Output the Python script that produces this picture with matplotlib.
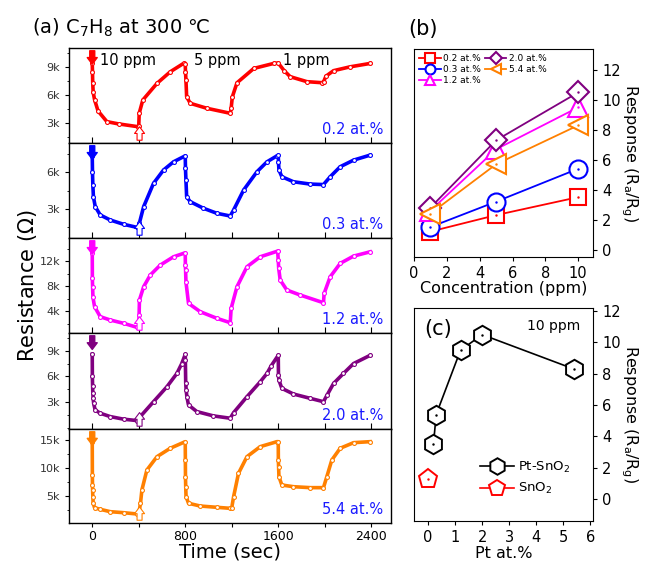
import matplotlib
matplotlib.use('Agg')
import matplotlib.pyplot as plt
import numpy as np
from matplotlib.ticker import AutoMinorLocator, MultipleLocator

plt.rcParams['font.family'] = ['DejaVu Sans']
plt.rcParams['mathtext.default'] = 'regular'

# transient resistance, time in sec, resistance in ohm
t02 = [0, 2, 4, 8, 20, 50, 126, 226, 390, 400, 404, 435, 557, 671, 785, 800, 802, 806, 812, 843,
       986, 1187, 1195, 1205, 1245, 1390, 1561, 1600, 1650, 1703, 1847, 1976, 1990, 2010, 2076, 2219, 2391]
r02 = [9400, 8500, 7300, 6300, 5500, 4300, 3170, 2930, 2640, 2700, 4060, 5470, 7240, 8470, 9360, 9300, 8500, 7600, 5820, 5120,
       4590, 4060, 4600, 5800, 7300, 8830, 9360, 9400, 8600, 7950, 7420, 7310, 7400, 8000, 8590, 9000, 9360]

t03 = [0, 2, 5, 10, 26, 69, 155, 270, 384, 400, 405, 442, 527, 613, 699, 800, 802, 806, 812, 843,
       957, 1072, 1187, 1216, 1302, 1417, 1503, 1589, 1600, 1602, 1606, 1631, 1731, 1875, 1989, 2047, 2133, 2248, 2391]
r03 = [7350, 6050, 5000, 4000, 3190, 2510, 2100, 1750, 1500, 1550, 1830, 3190, 5100, 6190, 6860, 7350, 6320, 5370, 4000, 3600,
       3060, 2650, 2430, 2920, 4550, 6050, 6860, 7350, 7400, 6860, 6190, 5640, 5230, 5040, 5000, 5640, 6460, 7000, 7410]

t12 = [0, 1, 3, 6, 20, 69, 155, 270, 384, 400, 403, 406, 442, 499, 585, 699, 800, 801, 803, 806,
       828, 929, 1072, 1187, 1195, 1245, 1331, 1445, 1595, 1600, 1604, 1617, 1674, 1789, 1989, 1995, 2047, 2133, 2248, 2391]
r12 = [13330, 9230, 7890, 6200, 4690, 3090, 2560, 2030, 1390, 1500, 3360, 5760, 7890, 9760, 11360, 12690, 13330, 11360, 10560, 8690,
       5230, 3890, 2830, 2130, 4430, 7890, 11090, 12690, 13600, 12160, 10830, 8960, 7360, 6560, 5330, 6830, 9490, 11630, 12800, 13490]

t20 = [0, 1, 3, 5, 8, 12, 25, 69, 155, 270, 384, 413, 527, 642, 728, 770, 800, 801, 804, 808, 814,
       828, 900, 1043, 1187, 1216, 1331, 1445, 1503, 1540, 1600, 1602, 1606, 1631, 1731, 1875, 1989, 2020, 2076, 2161, 2248, 2391]
r20 = [8570, 6030, 4880, 4040, 3460, 2880, 2110, 1730, 1340, 1040, 880, 1340, 3070, 4800, 6350, 7500, 8570, 7880, 5260, 4420, 3650,
       2690, 1920, 1420, 1150, 1800, 3650, 5380, 6350, 7250, 8460, 6150, 5570, 4620, 3960, 3460, 3070, 3840, 5190, 6350, 7500, 8460]

t54 = [0, 1, 2, 3, 5, 8, 20, 69, 155, 270, 384, 400, 415, 427, 470, 557, 671, 800, 801, 802, 804, 807,
       828, 929, 1072, 1187, 1200, 1216, 1258, 1331, 1445, 1589, 1600, 1601, 1603, 1606, 1631, 1731, 1875, 1989,
       2018, 2061, 2133, 2248, 2391]
r54 = [14700, 8750, 6960, 6070, 4880, 3700, 2900, 2620, 2200, 2020, 1790, 1800, 3700, 6070, 9640, 12020, 13520, 14700, 11430, 8450, 6660, 4880,
       3700, 3210, 2980, 2800, 2900, 4880, 9050, 12020, 13810, 14700, 14700, 11430, 10240, 8450, 6960, 6660, 6490, 6490,
       8450, 11430, 13520, 14520, 14700]

pt_labels = ['0.2 at.%', '0.3 at.%', '1.2 at.%', '2.0 at.%', '5.4 at.%']
colors = ['#ff0000', '#0000ff', '#ff00ff', '#800080', '#ff8000']
ylims = [(900, 11000), (630, 8400), (480, 15700), (-100, 11050), (180, 16960)]
yticks = [[3000, 6000, 9000], [3000, 6000], [4000, 8000, 12000], [3000, 6000, 9000], [5000, 10000, 15000]]
ytick_labels = [['3k', '6k', '9k'], ['3k', '6k'], ['4k', '8k', '12k'], ['3k', '6k', '9k'], ['5k', '10k', '15k']]
ppm_labels = ['10 ppm', '5 ppm', '1 ppm']
ppm_t = [69, 877, 1645]

# response vs concentration
conc = [1, 5, 10]
resp02 = [1.2, 2.3, 3.5]
resp03 = [1.5, 3.2, 5.4]
resp12 = [2.6, 6.7, 9.5]
resp20 = [2.8, 7.3, 10.5]
resp54 = [2.4, 5.7, 8.3]

# response at 10 ppm vs Pt content
pt_content = [0.2, 0.3, 1.2, 2.0, 5.4]
resp_pt = [3.5, 5.4, 9.5, 10.5, 8.3]
pure_x = [0]
pure_resp = [1.3]

W, H = 646, 564
fig = plt.figure(figsize=(W / 100, H / 100), dpi=100)

# ---------- (a) stacked transients ----------
tops = [48, 143, 238, 333, 429]
bots = [143, 238, 333, 429, 523]
series = [(t02, r02), (t03, r03), (t12, r12), (t20, r20), (t54, r54)]
axes_a = []
for i in range(5):
    ax = fig.add_axes([69 / W, 1 - bots[i] / H, 322 / W, (bots[i] - tops[i]) / H])
    t, r = series[i]
    c = colors[i]
    ax.plot(t, r, '-', color=c, lw=2.6, zorder=2)
    ax.plot(t, r, 'o', ms=2.8, mfc='white', mec=c, mew=0.8, zorder=3)
    ax.set_xlim(-200, 2570)
    ax.set_ylim(*ylims[i])
    ax.set_yticks(yticks[i])
    ax.set_yticklabels(ytick_labels[i], fontsize=8, color='#333333')
    ax.yaxis.set_minor_locator(AutoMinorLocator(2))
    ax.xaxis.set_major_locator(MultipleLocator(800))
    ax.xaxis.set_minor_locator(MultipleLocator(400))
    ax.tick_params(axis='y', which='major', direction='out', length=3, width=0.8)
    ax.tick_params(axis='y', which='minor', direction='out', length=1.5, width=0.6)
    ax.tick_params(axis='x', which='both', direction='in', length=4, top=False, width=0.8)
    if i < 4:
        ax.tick_params(axis='x', labelbottom=False)
    for s in ax.spines.values():
        s.set_linewidth(1.0)
    ax.text(0.975, 0.06, pt_labels[i], transform=ax.transAxes, ha='right', va='bottom',
            fontsize=10.5, color='#1a1aff')
    tr = ax.get_xaxis_transform()
    # gas in (filled) and gas out (hollow) arrows
    ax.annotate('', xy=(0, 0.80), xytext=(0, 1.0), xycoords=tr, textcoords=tr,
                arrowprops=dict(arrowstyle='simple,head_width=0.9,head_length=0.6,tail_width=0.45',
                                fc=c, ec=c, mutation_scale=8))
    ax.annotate('', xy=(407, 0.2), xytext=(407, 0.0), xycoords=tr, textcoords=tr,
                arrowprops=dict(arrowstyle='simple,head_width=0.9,head_length=0.6,tail_width=0.45',
                                fc='white', ec=c, lw=0.8, mutation_scale=8))
    axes_a.append(ax)

for lab, tt in zip(ppm_labels, ppm_t):
    axes_a[0].text(tt, 9710, lab, fontsize=10.5, va='center', ha='left')

axes_a[-1].set_xticks([0, 800, 1600, 2400])
axes_a[-1].tick_params(axis='x', labelsize=9, colors='black', pad=2)
axes_a[-1].tick_params(axis='x', which='both', direction='out', length=3)
fig.text(230 / W, 1 - 562 / H, 'Time (sec)', fontsize=14, ha='center', va='bottom')
fig.text(28 / W, 1 - 286 / H, 'Resistance ($\\Omega$)', rotation=90, fontsize=15,
         ha='center', va='center')
fig.text(32 / W, 1 - 28 / H, '(a) C$_7$H$_8$ at 300 \u2103', fontsize=14, ha='left', va='center',
         family=['DejaVu Sans', 'Noto Sans CJK SC'])

# ---------- (b) response vs concentration ----------
axb = fig.add_axes([414 / W, 1 - 257 / H, 179 / W, 208 / H])
bseries = [(resp02, 's', 12, '0.2 at.%'), (resp03, 'o', 13, '0.3 at.%'), (resp12, '^', 14, '1.2 at.%'),
           (resp20, 'D', 11, '2.0 at.%'), (resp54, '<', 14, '5.4 at.%')]
for (vals, mk, ms, lab), c in zip(bseries, colors):
    axb.plot(conc, vals, '-', color=c, lw=1.3, marker=mk, ms=ms, mfc='white', mec=c, mew=1.5, label=lab)
    axb.plot(conc, vals, '.', color=c, ms=1.5)
axb.set_xlim(0, 10.9)
axb.set_ylim(-0.5, 13.4)
axb.set_xticks([0, 2, 4, 6, 8, 10])
axb.set_yticks([0, 2, 4, 6, 8, 10, 12])
axb.yaxis.tick_right()
axb.yaxis.set_label_position('right')
axb.tick_params(direction='out', length=3, labelsize=10.5)
axb.set_xlabel('Concentration (ppm)', fontsize=11.5, labelpad=0)
axb.set_ylabel('Response (R$_a$/R$_g$)', fontsize=11.5, rotation=270, labelpad=14)
axb.legend(loc='upper left', ncol=2, frameon=False, fontsize=6.5, markerscale=0.55,
           handlelength=2.4, columnspacing=0.4, handletextpad=0.3, labelspacing=0.25,
           borderaxespad=0.15)
fig.text(408 / W, 1 - 29 / H, '(b)', fontsize=15, ha='left', va='center')

# ---------- (c) response vs Pt content ----------
axc = fig.add_axes([414 / W, 1 - 521 / H, 179 / W, 213 / H])
axc.plot(pt_content, resp_pt, '-', color='black', lw=1.2, marker='h', ms=14, mfc='white', mec='black',
         mew=1.4, label='Pt-SnO$_2$')
axc.plot(pure_x, pure_resp, '-', color='red', lw=1.2, marker='p', ms=14, mfc='white', mec='red',
         mew=1.4, label='SnO$_2$')
axc.plot(pt_content, resp_pt, '.', color='black', ms=1.5)
axc.plot(pure_x, pure_resp, '.', color='red', ms=1.5)
axc.set_xlim(-0.52, 6.1)
axc.set_ylim(-1.4, 12.2)
axc.set_xticks([0, 1, 2, 3, 4, 5, 6])
axc.set_yticks([0, 2, 4, 6, 8, 10, 12])
axc.yaxis.tick_right()
axc.yaxis.set_label_position('right')
axc.tick_params(direction='out', length=3, labelsize=10.5)
axc.set_xlabel('Pt at.%', fontsize=11.5, labelpad=1)
axc.set_ylabel('Response (R$_a$/R$_g$)', fontsize=11.5, rotation=270, labelpad=14)
axc.text(0.06, 0.95, '(c)', transform=axc.transAxes, fontsize=15, ha='left', va='top')
axc.text(0.93, 0.95, '10 ppm', transform=axc.transAxes, fontsize=10, ha='right', va='top')
axc.legend(loc='lower left', bbox_to_anchor=(0.3, 0.06), frameon=False, fontsize=9.5, markerscale=0.85,
           handlelength=2.6, handletextpad=0.3, labelspacing=0.5)

fig.savefig('out.png', dpi=100)
